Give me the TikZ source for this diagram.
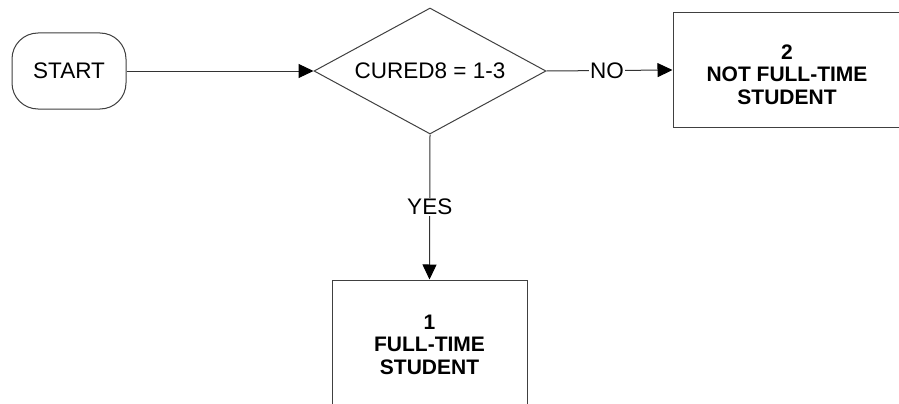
\documentclass[tikz,border=0pt]{standalone}
\usepackage{fontspec}
\setmainfont{Liberation Sans}
\usetikzlibrary{shapes.geometric,arrows.meta}
\begin{document}
\begin{tikzpicture}[x=1pt,y=-1pt,
  every node/.style={font=\fontsize{22.5}{24}\selectfont},
  shapeline/.style={draw=black!75,line width=1pt},
  startbox/.style={shapeline,rectangle,rounded corners=26pt,minimum width=114pt,minimum height=76pt,inner sep=0pt},
  decision/.style={shapeline,diamond,aspect=1.84,minimum width=232pt,minimum height=126pt,inner sep=0pt},
  outbox/.style={shapeline,rectangle,inner sep=0pt},
  boxtext/.style={align=center,font=\fontsize{21}{22.5}\selectfont\bfseries,inner sep=0pt},
  conn/.style={draw=black!80,line width=1pt,-{Triangle[length=15pt,width=14pt,color=black]}},
  lbl/.style={fill=white,inner sep=1.5pt}]
\useasboundingbox (0,0) rectangle (899,404);
\clip (0,0) rectangle (899,404);
\fill[white] (0,0) rectangle (899,404);
\node[startbox] (start) at (69,71) {START};
\node[decision] (dec) at (430,71) {CURED8 = 1-3};
\node[outbox,minimum width=228pt,minimum height=114pt] (b2) at (787,70) {};
\node[boxtext] (b2t) at (787,74.5) {2\\NOT FULL-TIME\\STUDENT};
\node[outbox,minimum width=195pt,minimum height=129pt] (b1) at (429.5,344.5) {};
\node[boxtext] (b1t) at (429.5,344.5) {1\\FULL-TIME\\STUDENT};
\draw[conn] (start.east) -- (dec.west);
\draw[conn] (dec.east) -- node[lbl,pos=0.48] (no) {NO} (b2.west);
\draw[conn] (dec.south) -- node[lbl,pos=0.5] (yes) {YES} (b1.north);
\end{tikzpicture}
\end{document}
